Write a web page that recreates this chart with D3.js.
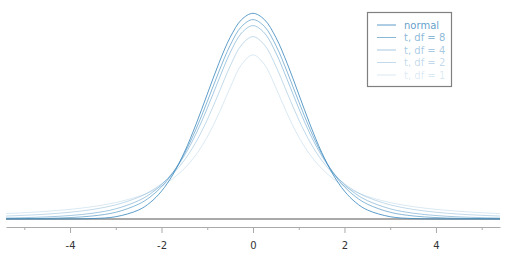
<!DOCTYPE html>
<html>
<head>
<meta charset="utf-8">
<script src="https://cdn.jsdelivr.net/npm/d3@7"></script>
<style>
  html, body { margin: 0; padding: 0; background: #fff; }
  #chart { width: 506px; height: 258px; }
  text { font-family: "DejaVu Sans", sans-serif; }
</style>
</head>
<body>
<div id="chart"></div>
<script>
var xs = [-5.4, -5, -4.5, -4, -3.5, -3, -2.5, -2.25, -2, -1.75, -1.5, -1.25, -1, -0.75, -0.5, -0.25, 0,
          0.25, 0.5, 0.75, 1, 1.25, 1.5, 1.75, 2, 2.25, 2.5, 3, 3.5, 4, 4.5, 5, 5.4];

var normal = [0, 0.0000015, 0.000016, 0.000134, 0.00087, 0.00443, 0.0175, 0.0317, 0.0540, 0.0863, 0.1295, 0.1826, 0.2420, 0.3011, 0.3521, 0.3867, 0.3989,
              0.3867, 0.3521, 0.3011, 0.2420, 0.1826, 0.1295, 0.0863, 0.0540, 0.0317, 0.0175, 0.00443, 0.00087, 0.000134, 0.000016, 0.0000015, 0];
var t8 = [0.000385, 0.000657, 0.00132, 0.00276, 0.00592, 0.0130, 0.0288, 0.0426, 0.0624, 0.0899, 0.1268, 0.1733, 0.2276, 0.2848, 0.3367, 0.3734, 0.3867,
          0.3734, 0.3367, 0.2848, 0.2276, 0.1733, 0.1268, 0.0899, 0.0624, 0.0426, 0.0288, 0.0130, 0.00592, 0.00276, 0.00132, 0.000657, 0.000385];
var t4 = [0.00189, 0.00265, 0.00414, 0.00671, 0.01127, 0.0197, 0.0357, 0.0485, 0.0663, 0.0905, 0.1229, 0.1644, 0.2147, 0.2699, 0.3223, 0.3607, 0.3750,
          0.3607, 0.3223, 0.2699, 0.2147, 0.1644, 0.1229, 0.0905, 0.0663, 0.0485, 0.0357, 0.0197, 0.01127, 0.00671, 0.00414, 0.00265, 0.00189];
var t2 = [0.00575, 0.00713, 0.00953, 0.0131, 0.0186, 0.0274, 0.0422, 0.0533, 0.0680, 0.0878, 0.1141, 0.1487, 0.1925, 0.2438, 0.2963, 0.3376, 0.3536,
          0.3376, 0.2963, 0.2438, 0.1925, 0.1487, 0.1141, 0.0878, 0.0680, 0.0533, 0.0422, 0.0274, 0.0186, 0.0131, 0.00953, 0.00713, 0.00575];
var t1 = [0.01055, 0.0122, 0.0150, 0.0187, 0.0240, 0.0318, 0.0439, 0.0525, 0.0637, 0.0784, 0.0979, 0.1242, 0.1592, 0.2037, 0.2546, 0.2996, 0.3183,
          0.2996, 0.2546, 0.2037, 0.1592, 0.1242, 0.0979, 0.0784, 0.0637, 0.0525, 0.0439, 0.0318, 0.0240, 0.0187, 0.0150, 0.0122, 0.01055];

var seriesNames = ["normal", "t, df = 8", "t, df = 4", "t, df = 2", "t, df = 1"];
var seriesValues = [normal, t8, t4, t2, t1];
var opacities = [0.82, 0.6, 0.45, 0.31, 0.19];
var majorTicks = [-4, -2, 0, 2, 4];
var minorTicks = [-5, -3, -1, 1, 3, 5];

var chartDiv = document.getElementById("chart");
var width = 506, height = 258;
var svg = d3.select(chartDiv).append("svg")
  .attr("width", width)
  .attr("height", height);

var blue = "#3a88bd";

var x = d3.scaleLinear().domain([-5.4, 5.4]).range([6, 500]);
var y = d3.scaleLinear().domain([0, 0.3989]).range([219, 13.3]);

// x axis
var axisY = 227;
var axis = svg.append("g")
  .attr("transform", "translate(0," + axisY + ")")
  .call(d3.axisBottom(x).tickValues(majorTicks).tickSize(6).tickPadding(9)
    .tickFormat(d3.format("d")).tickSizeOuter(0));
axis.select(".domain").attr("stroke", "#aaa");
axis.selectAll(".tick line").attr("stroke", "#aaa");
axis.selectAll(".tick text")
  .attr("fill", "#333")
  .style("font-size", "10px")
  .text(function(d) { return d < 0 ? "-" + (-d) : d; });

svg.append("g")
  .attr("transform", "translate(0," + axisY + ")")
  .call(d3.axisBottom(x).tickValues(minorTicks).tickSize(3).tickFormat(""))
  .call(function(g) { g.select(".domain").remove(); })
  .selectAll(".tick line").attr("stroke", "#aaa");

// zero line
svg.append("line")
  .attr("x1", x(-5.4)).attr("x2", x(5.4))
  .attr("y1", y(0)).attr("y2", y(0))
  .attr("stroke", "#8c8c8c")
  .attr("stroke-width", 1.6);

var line = d3.line()
  .x(function(d, i) { return x(xs[i]); })
  .y(function(d) { return y(d); })
  .curve(d3.curveCatmullRom.alpha(0.5));

svg.selectAll("path.curve")
  .data(seriesValues.slice().reverse())
  .enter()
  .append("path")
  .attr("class", "curve")
  .attr("d", line)
  .attr("fill", "none")
  .attr("stroke", blue)
  .attr("stroke-opacity", function(d, i) { return opacities[seriesValues.length - 1 - i]; })
  .attr("stroke-width", 1);

// legend
var legend = svg.append("g");
legend.append("rect")
  .attr("x", 367.5).attr("y", 12.5)
  .attr("width", 84).attr("height", 74)
  .attr("fill", "#fff")
  .attr("stroke", "#808080")
  .attr("stroke-width", 1.2);

var rows = legend.selectAll("g.row")
  .data(seriesNames)
  .enter()
  .append("g")
  .attr("class", "row")
  .attr("transform", function(d, i) { return "translate(0," + (25 + i * 12.5) + ")"; });

rows.append("line")
  .attr("x1", 377).attr("x2", 396)
  .attr("y1", 0).attr("y2", 0)
  .attr("stroke", blue)
  .attr("stroke-opacity", function(d, i) { return opacities[i]; });

rows.append("text")
  .attr("x", 404)
  .attr("y", 3.6)
  .style("font-size", "10px")
  .attr("fill", blue)
  .attr("fill-opacity", function(d, i) { return opacities[i]; })
  .text(function(d) { return d; });
</script>
</body>
</html>
